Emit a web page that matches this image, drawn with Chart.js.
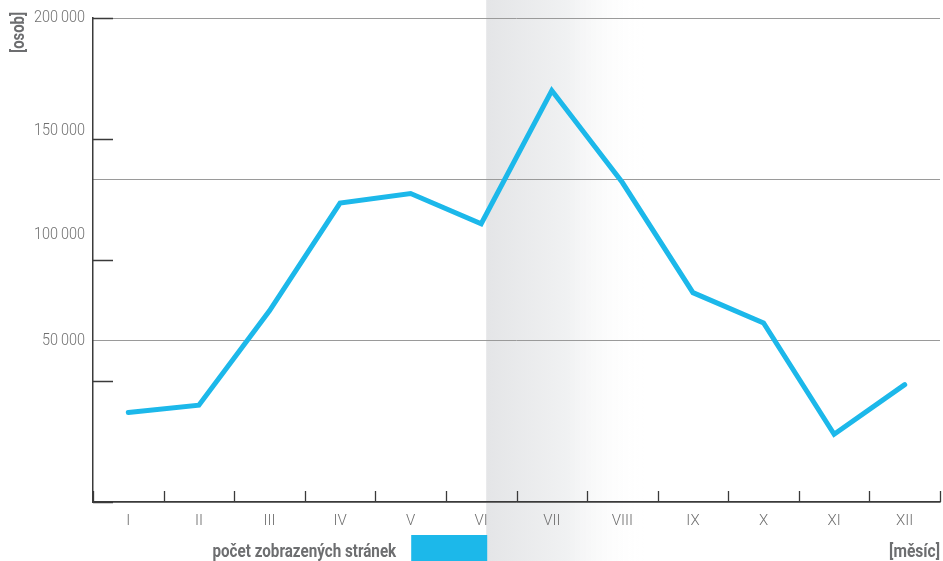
<!DOCTYPE html>
<html lang="cs">
<head>
<meta charset="utf-8">
<title>Počet zobrazených stránek</title>
<script src="https://cdn.jsdelivr.net/npm/chart.js@4.4.1/dist/chart.umd.min.js"></script>
<style>
  html, body { margin: 0; padding: 0; background: #fff; }
  .chart-box { position: relative; width: 943px; height: 561px; }
</style>
</head>
<body>
<div class="chart-box">
  <canvas id="visitsChart"></canvas>
</div>
<script>
// months and page views per month
const months = ['I', 'II', 'III', 'IV', 'V', 'VI', 'VII', 'VIII', 'IX', 'X', 'XI', 'XII'];
const pageViews = [37000, 40000, 79000, 123500, 127500, 115000, 170000, 132000, 86500, 74000, 28000, 48500];
const yTickLabels = ['50\u2009000', '100\u2009000', '150\u2009000', '200\u2009000'];
const yMarks = [0, 50000, 100000, 150000, 200000];

const seriesName = 'počet zobrazených stránek';
const xTitle = '[měsíc]';
const yTitle = '[osob]';

const BLUE = '#1cb8ea';
const AXIS = '#3a3a3a';
const GRID = '#9a9a9a';
const TEXT = '#6d6e70';
const LABEL = '#707070';
const FONT = 'Roboto, "Liberation Sans", sans-serif';

// fake a condensed face by squeezing the text horizontally
function narrowText(ctx, text, x, y, align, squeeze) {
  ctx.save();
  ctx.translate(x, y);
  ctx.scale(squeeze, 1);
  ctx.textAlign = align;
  ctx.fillText(text, 0, 0);
  ctx.restore();
}

// grey fade behind the summer months
const summerShade = {
  id: 'summerShade',
  beforeDraw(chart) {
    const { ctx, scales: { x } } = chart;
    const x0 = x.getPixelForValue(5) + 5;
    const x1 = x0 + 160;
    const g = ctx.createLinearGradient(x0, 0, x1, 0);
    g.addColorStop(0, '#e4e5e7');
    g.addColorStop(0.5, '#f0f1f2');
    g.addColorStop(1, 'rgba(255,255,255,0)');
    ctx.save();
    ctx.fillStyle = g;
    ctx.fillRect(x0, 0, x1 - x0, chart.height);
    ctx.restore();
  }
};

// inward tick marks, value labels, axis titles and the legend
const decorations = {
  id: 'decorations',
  afterDraw(chart) {
    const { ctx, chartArea: area, scales: { x, y } } = chart;
    ctx.save();
    ctx.strokeStyle = AXIS;
    ctx.lineWidth = 1.3;
    ctx.beginPath();
    yMarks.forEach(v => {
      const py = Math.round(y.getPixelForValue(v)) + 0.5;
      ctx.moveTo(area.left, py);
      ctx.lineTo(area.left + 20, py);
    });
    const half = (x.getPixelForValue(1) - x.getPixelForValue(0)) / 2;
    for (let i = 0; i <= months.length; i++) {
      const px = Math.round(x.getPixelForValue(i) - half) + 0.5;
      ctx.moveTo(px, area.bottom);
      ctx.lineTo(px, area.bottom - 11);
    }
    ctx.stroke();

    // value labels on the y axis
    ctx.fillStyle = LABEL;
    ctx.font = '300 17px ' + FONT;
    ctx.textBaseline = 'middle';
    y.ticks.forEach((t, i) => {
      narrowText(ctx, yTickLabels[i], area.left - 8, y.getPixelForValue(t.value), 'right', 0.85);
    });

    ctx.fillStyle = TEXT;
    ctx.font = 'bold 19px ' + FONT;
    ctx.textBaseline = 'alphabetic';

    // y title, rotated
    ctx.save();
    ctx.translate(24, 12);
    ctx.rotate(-Math.PI / 2);
    narrowText(ctx, yTitle, 0, 0, 'right', 0.78);
    ctx.restore();

    // x title
    narrowText(ctx, xTitle, area.right, 557, 'right', 0.82);

    // legend
    const boxRight = x.getPixelForValue(5) + 6;
    const boxLeft = boxRight - 76;
    const ds = chart.data.datasets[0];
    ctx.fillStyle = ds.borderColor;
    ctx.fillRect(boxLeft, 535, boxRight - boxLeft, 26);
    ctx.fillStyle = TEXT;
    narrowText(ctx, ds.label, boxLeft - 15, 557, 'right', 0.8);
    ctx.restore();
  }
};

new Chart(document.getElementById('visitsChart'), {
  type: 'line',
  data: {
    labels: months,
    datasets: [{
      label: seriesName,
      data: pageViews,
      borderColor: BLUE,
      backgroundColor: BLUE,
      borderWidth: 5,
      borderJoinStyle: 'miter',
      borderCapStyle: 'round',
      pointRadius: 0,
      tension: 0,
      fill: false
    }]
  },
  options: {
    responsive: true,
    maintainAspectRatio: false,
    animation: false,
    layout: { padding: { top: 18, right: 3, left: 0, bottom: 0 } },
    plugins: {
      legend: { display: false },
      tooltip: { enabled: false }
    },
    scales: {
      x: {
        offset: true,
        grid: { display: false },
        border: { display: true, color: AXIS, width: 1.5 },
        ticks: {
          color: LABEL,
          font: { family: FONT, size: 15, weight: '300' },
          padding: 2,
          maxRotation: 0
        },
        afterFit(scale) { scale.height = 59; }
      },
      y: {
        min: 0,
        max: 200000,
        grid: { display: false },
        border: { display: true, color: AXIS, width: 1.5 },
        ticks: { display: false },
        // the value labels sit a little off the tick marks
        afterBuildTicks(scale) {
          scale.ticks = [66667, 110300, 153300, 200000].map(v => ({ value: v }));
        },
        afterFit(scale) { scale.width = 93; }
      },
      thirds: {
        position: 'right',
        min: 0,
        max: 3,
        grid: { color: GRID, lineWidth: 1, drawTicks: false },
        border: { display: false },
        ticks: { display: false, stepSize: 1 },
        afterFit(scale) { scale.width = 0; }
      }
    }
  },
  plugins: [summerShade, decorations]
});
</script>
</body>
</html>
